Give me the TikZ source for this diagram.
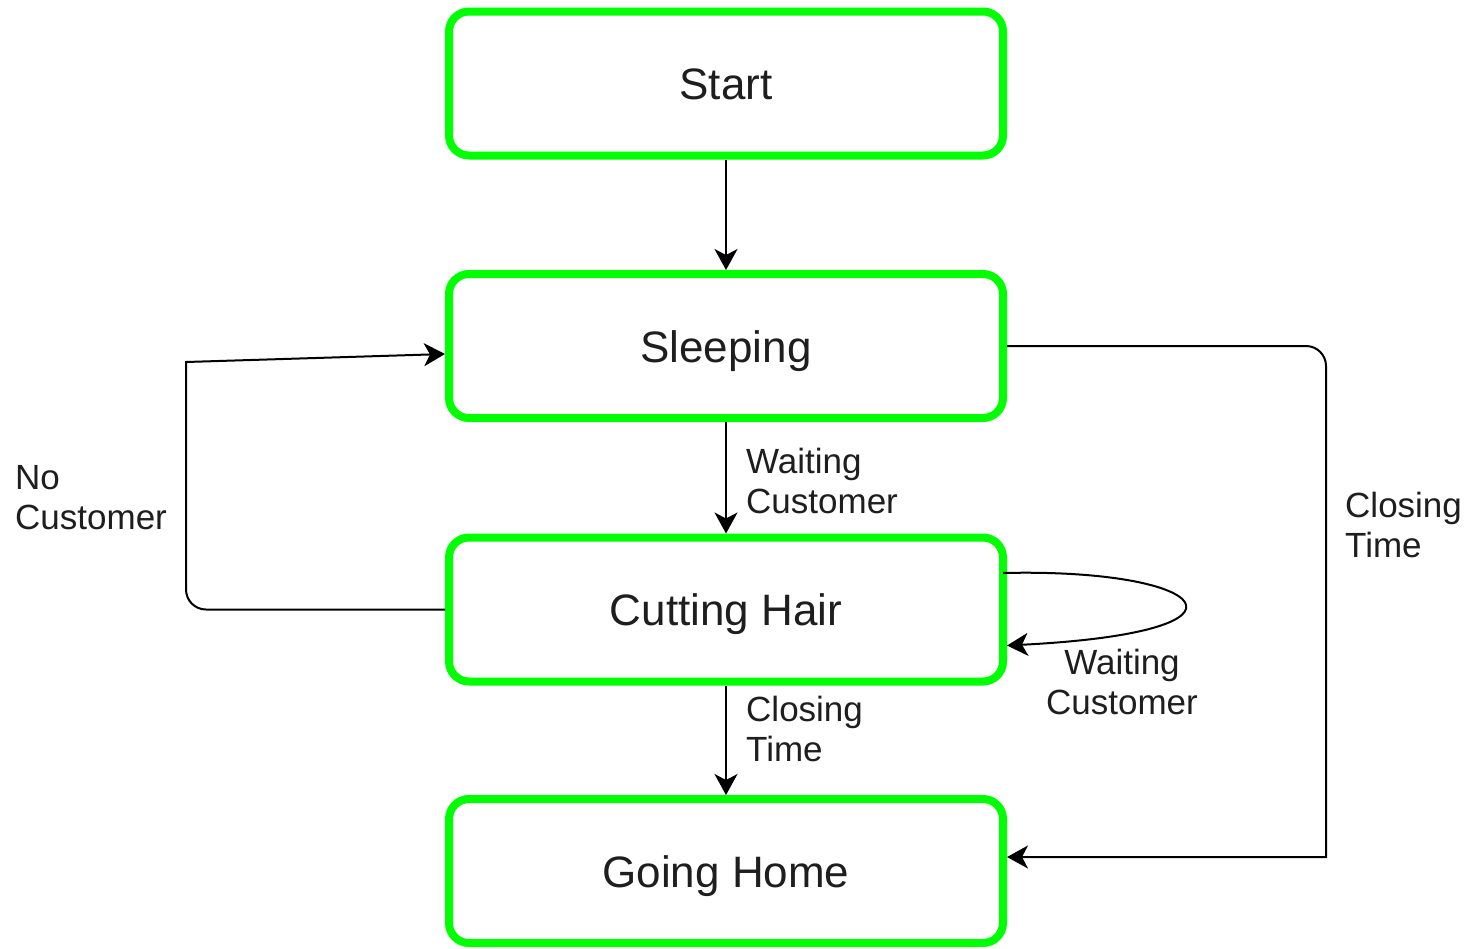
\documentclass[tikz,border=0pt]{standalone}
\usepackage{fontspec}
\setmainfont{Liberation Sans}
\usetikzlibrary{arrows.meta}
\definecolor{stategreen}{RGB}{0,255,0}
\definecolor{ink}{RGB}{30,30,30}
\tikzset{
  state/.style={draw=stategreen, line width=8pt, rounded corners=20pt,
    minimum width=554pt, minimum height=144pt, inner sep=0pt,
    text height=34pt, text depth=2pt,
    text=ink, font=\fontsize{44}{50}\selectfont},
  conn/.style={draw=black, line width=2pt,
    -{Stealth[length=21pt, width=23pt, inset=6pt]}},
  lbl/.style={inner sep=0pt, text=ink, font=\fontsize{35}{40}\selectfont}
}
\begin{document}
\begin{tikzpicture}[x=1pt, y=-1pt]
  \useasboundingbox (0,0) rectangle (1474,948);

  % states
  \node[state] (st) at (726,83.5) {Start};
  \node[state] (sl) at (726,346) {Sleeping};
  \node[state] (ch) at (726,609.5) {Cutting Hair};
  \node[state] (gh) at (726,871) {Going Home};

  % vertical transitions
  \draw[conn] (st) -- (sl);
  \draw[conn] (sl) -- (ch);
  \draw[conn] (ch) -- (gh);

  % no customer: back to sleeping (rounded lower corner only)
  \draw[conn] (ch.west) [rounded corners=20pt] -- (186,609.5)
    [sharp corners] -- (186,362) -- ([yshift=-8pt]sl.west);

  % closing time while sleeping (rounded upper corner only)
  \draw[conn] (sl.east) [rounded corners=20pt] -- (1326,346)
    [sharp corners] -- (1326,857) -- ([yshift=14pt]gh.east);

  % self-loop on cutting hair
  \coordinate (lpA) at (1003,573);
  \coordinate (lpB) at ([yshift=-36pt]ch.east);
  \draw[conn] (lpA) .. controls (1210,568) and (1275,632) .. (lpB);

  % transition labels
  \node[lbl, anchor=west, align=left] (wc1) at (746,481) {Waiting\\Customer};
  \node[lbl, anchor=west, align=left] (ct1) at (746,729) {Closing\\Time};
  \node[lbl, anchor=west, align=left] (nc) at (15,498) {No\\Customer};
  \node[lbl, anchor=west, align=left] (ct2) at (1345,525) {Closing\\Time};
  \node[lbl, align=center] (wc2) at (1122,682) {Waiting\\Customer};
\end{tikzpicture}
\end{document}
